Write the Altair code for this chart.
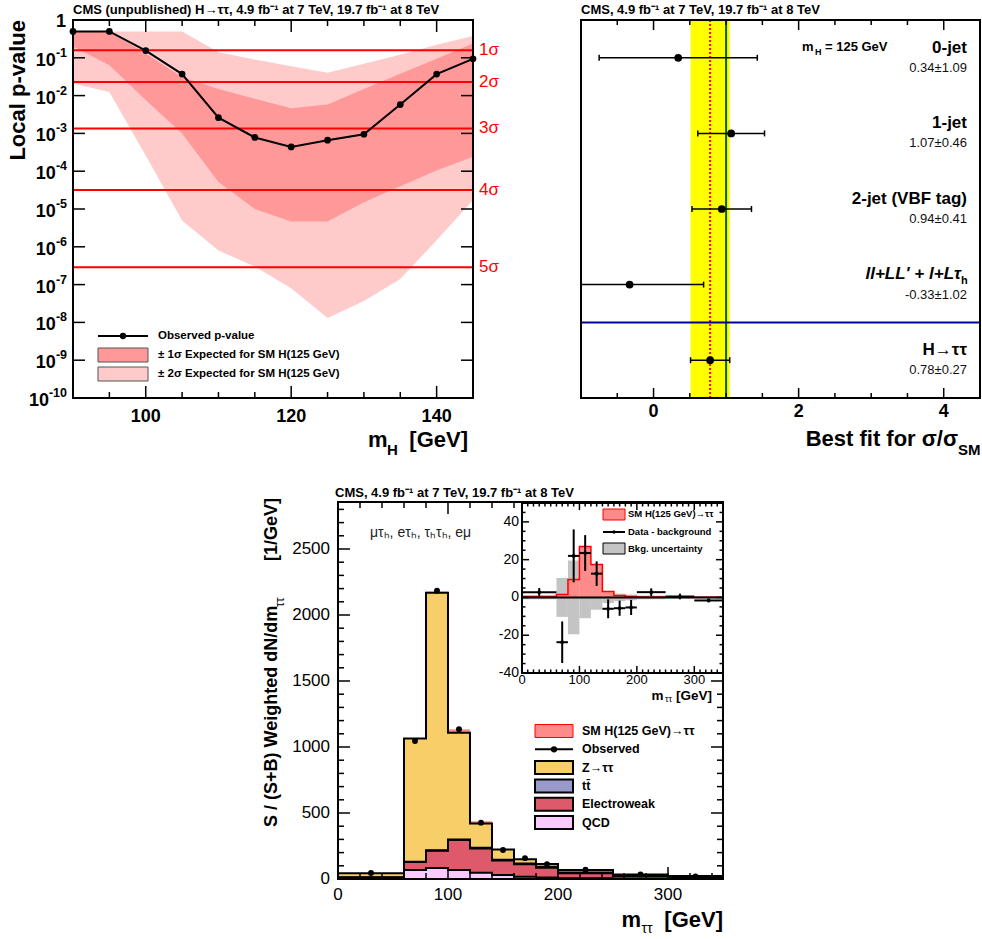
import altair as alt
import numpy as np
import pandas as pd

FONT = "Liberation Sans, Arial, Helvetica, sans-serif"

# ---------------- Panel A: local p-value scan ----------------
MASS = [90, 95, 100, 105, 110, 115, 120, 125, 130, 135, 140, 145]
P_OBS = [0.5, 0.5, 0.155, 0.037, 0.0026, 7.8e-4, 4.4e-4, 6.6e-4, 9.5e-4, 5.8e-3, 0.037, 0.094]
EXP_1S_HI = [0.5, 0.5, 0.13, 0.031, 0.015, 0.0083, 0.0046, 0.0058, 0.015, 0.038, 0.094, 0.24]
EXP_1S_LO = [0.2, 0.064, 0.0076, 1.0e-3, 5.2e-5, 1.0e-5, 4.7e-6, 4.7e-6, 1.5e-5, 4.0e-5, 1.05e-4, 2.4e-4]
EXP_2S_HI = [0.5, 0.5, 0.5, 0.5, 0.14, 0.09, 0.06, 0.04, 0.07, 0.12, 0.22, 0.38]
EXP_2S_LO = [0.021, 0.0125, 2.6e-4, 5e-6, 8e-7, 3e-7, 8e-8, 1.3e-8, 3.7e-8, 1.4e-7, 1.5e-6, 1.7e-5]
SIGMA_P = [0.1587, 0.02275, 0.00135, 3.17e-5, 2.87e-7]
SIGMA_LABELS = ["1σ", "2σ", "3σ", "4σ", "5σ"]

# ---------------- Panel B: best-fit signal strength ----------------
CATEGORIES = ["0-jet", "1-jet", "2-jet (VBF tag)", "ll+LL' + l+Lτh", "H→ττ"]
MU = [0.34, 1.07, 0.94, -0.33, 0.78]
MU_ERR = [1.09, 0.46, 0.41, 1.02, 0.27]
SM_VALUE = 1.0

# ---------------- Panel C: weighted m_tautau ----------------
EDGES = [0, 60, 80, 100, 120, 140, 160, 180, 200, 250, 300, 350]
QCD = [4, 68, 84, 68, 48, 30, 17, 11, 5, 3, 2]
EWK = [8, 60, 130, 227, 184, 110, 95, 75, 38, 20, 10]
TTBAR = [2, 3, 4, 5, 5, 6, 6, 6, 6, 4, 3]
ZTT = [30, 934, 1950, 807, 183, 78, 32, 21, 19, 8, 7]
SIGNAL = [0.5, 1.5, 9.5, 27, 17.5, 3.2, 1.0, 0.5, 0.3, 0.2, 0.1]
OBSERVED = [46, 1045, 2184, 1134, 427, 220, 158, 113, 70, 35, 20]

# inset
DATA_MINUS_BKG = [2.8, -23.7, 22, 23.5, 12.6, -6, -5.7, -5.3, 2.8, 0.5, -1.6]
DATA_MINUS_BKG_ERR = [2.2, 11, 14, 9.5, 6.5, 5, 4, 4, 2, 1.5, 1]
BKG_UNC = [1, 10.3, 19.5, 11, 6.5, 3, 2, 1.5, 1, 0.5, 0.5]

# ---------------- layout (pixels) ----------------
A_BOX = (73, 20, 473, 398)    # left, top, right, bottom
B_BOX = (581, 20, 980, 398)
C_BOX = (338, 502, 723, 879)
D_BOX = (522, 503, 723, 673)

LIGHT = "#ffcaca"
DARK = "#ff9999"
C_ZTT, C_TT, C_EWK, C_QCD, C_SIG = "#f8ce68", "#9999cc", "#de5a6a", "#facaff", "#ff8a8a"

ONE = pd.DataFrame({"k": [0]})


def text(t, x, y, size=12, weight="normal", align="left", baseline="alphabetic",
         color="black", angle=0, style="normal"):
    return alt.Chart(ONE).mark_text(
        text=t, font=FONT, fontSize=size, fontWeight=weight, fontStyle=style,
        align=align, baseline=baseline, color=color, angle=angle
    ).encode(x=alt.value(x), y=alt.value(y))


def box(b, width=2, fill=None, stroke="black"):
    kw = dict(stroke=stroke, strokeWidth=width)
    if fill is None:
        kw.update(fill="white", fillOpacity=0)
    else:
        kw.update(fill=fill, fillOpacity=1)
    return alt.Chart(ONE).mark_rect(**kw).encode(
        x=alt.value(b[0]), x2=alt.value(b[2]), y=alt.value(b[1]), y2=alt.value(b[3]))


def xticks(values, scale, y_edge, length, width=1.5):
    df = pd.DataFrame({"v": list(values)})
    return alt.Chart(df).mark_rule(color="black", strokeWidth=width).encode(
        x=alt.X("v:Q", scale=scale, axis=None), y=alt.value(y_edge), y2=alt.value(y_edge + length))


def yticks(values, scale, x_edge, length, width=1.5):
    df = pd.DataFrame({"v": list(values)})
    return alt.Chart(df).mark_rule(color="black", strokeWidth=width).encode(
        y=alt.Y("v:Q", scale=scale, axis=None), x=alt.value(x_edge), x2=alt.value(x_edge + length))


def all_ticks(sx, sy, b, xmaj, xmin, ymaj, ymin, lmaj, lmin):
    out = []
    for vals, L in ((xmaj, lmaj), (xmin, lmin)):
        if len(vals):
            out.append(xticks(vals, sx, b[3], -L))
            out.append(xticks(vals, sx, b[1], L))
    if sy is not None:
        for vals, L in ((ymaj, lmaj), (ymin, lmin)):
            if len(vals):
                out.append(yticks(vals, sy, b[0], L))
                out.append(yticks(vals, sy, b[2], -L))
    return out


def labels(values, labs, sx=None, sy=None, x=None, y=None, size=17, weight="normal",
           align="center", baseline="middle", dy=0):
    df = pd.DataFrame({"v": list(values), "lab": list(labs)})
    enc = {"text": alt.Text("lab:N")}
    if sx is not None:
        enc["x"] = alt.X("v:Q", scale=sx, axis=None)
        enc["y"] = alt.value(y)
    else:
        enc["y"] = alt.Y("v:Q", scale=sy, axis=None)
        enc["x"] = alt.value(x)
    return alt.Chart(df).mark_text(font=FONT, fontSize=size, fontWeight=weight, align=align,
                                   baseline=baseline, dy=dy, color="black").encode(**enc)


# =============== Panel A ===============
xsA = alt.Scale(domain=[90, 145], range=[A_BOX[0], A_BOX[2]], nice=False, zero=False)
ysA = alt.Scale(type="log", domain=[1e-10, 1], range=[A_BOX[3], A_BOX[1]], nice=False)
dfA = pd.DataFrame({"m": MASS, "obs": P_OBS, "lo1": EXP_1S_LO, "hi1": EXP_1S_HI,
                    "lo2": EXP_2S_LO, "hi2": EXP_2S_HI})
dfS = pd.DataFrame({"p": SIGMA_P, "lab": SIGMA_LABELS})
XA = alt.X("m:Q", scale=xsA, axis=None)


def YA(f):
    return alt.Y(f, scale=ysA, axis=None)


decades = [10.0 ** (-k) for k in range(0, 11)]
LAB_R = 67          # right edge of y tick labels
EXP_SIZE = 12.5
# exponents -1 .. -9 (two characters) and -10 (three characters)
e1 = [10.0 ** (-k) for k in range(1, 10)]
e2 = [1e-10]
w1 = (0.333 + 0.556) * EXP_SIZE
w2 = (0.333 + 2 * 0.556) * EXP_SIZE

a_layers = [
    alt.Chart(dfA).mark_area(color=LIGHT).encode(x=XA, y=YA("lo2:Q"), y2="hi2:Q"),
    alt.Chart(dfA).mark_area(color=DARK).encode(x=XA, y=YA("lo1:Q"), y2="hi1:Q"),
    alt.Chart(dfS).mark_rule(color="#ff0000", strokeWidth=2).encode(
        y=YA("p:Q"), x=alt.value(A_BOX[0]), x2=alt.value(A_BOX[2])),
    alt.Chart(dfA).mark_line(color="black", strokeWidth=2).encode(x=XA, y=YA("obs:Q")),
    alt.Chart(dfA).mark_point(filled=True, color="black", size=45, opacity=1).encode(x=XA, y=YA("obs:Q")),
    box(A_BOX),
    *all_ticks(xsA, ysA, A_BOX, [100, 120, 140], [95, 105, 110, 115, 125, 130, 135],
               decades, [], 12, 6),
    alt.Chart(dfS).mark_text(font=FONT, fontSize=17, color="#ff0000", align="left",
                             baseline="middle").encode(x=alt.value(479), y=YA("p:Q"), text="lab:N"),
    labels([100, 120, 140], ["100", "120", "140"], sx=xsA, y=417, size=18, weight="bold"),
    labels([1.0], ["1"], sy=ysA, x=LAB_R - 1, size=18, weight="bold", align="right", dy=2),
    labels(e1, ["10"] * len(e1), sy=ysA, x=LAB_R - w1, size=18, weight="bold", align="right", dy=3),
    labels(e2, ["10"], sy=ysA, x=LAB_R - w2, size=18, weight="bold", align="right", dy=3),
    labels(e1 + e2, [f"-{k}" for k in range(1, 11)], sy=ysA, x=LAB_R, size=EXP_SIZE,
           weight="bold", align="right", dy=-5),
]
panelA = alt.layer(*a_layers)

a_annot = [
    text("CMS (unpublished) H→ττ, 4.9 fb⁻¹ at 7 TeV, 19.7 fb⁻¹ at 8 TeV", 73, 14, 13, "bold"),
    text("Local p-value", 25, 20, 22, "bold", align="right", angle=270),
    text("m", 368, 447, 22, "bold"),
    text("H", 387, 455, 15, "bold"),
    text("[GeV]", 468, 447, 22, "bold", align="right"),
    # legend
    alt.Chart(ONE).mark_rule(color="black", strokeWidth=2).encode(
        x=alt.value(98), x2=alt.value(148), y=alt.value(336)),
    alt.Chart(ONE).mark_point(filled=True, color="black", size=40, opacity=1).encode(
        x=alt.value(123), y=alt.value(336)),
    alt.Chart(ONE).mark_rect(fill=DARK, stroke="#555555", strokeWidth=1).encode(
        x=alt.value(98), x2=alt.value(148), y=alt.value(348), y2=alt.value(362)),
    alt.Chart(ONE).mark_rect(fill=LIGHT, stroke="#555555", strokeWidth=1).encode(
        x=alt.value(98), x2=alt.value(148), y=alt.value(367), y2=alt.value(381)),
    text("Observed p-value", 158, 336, 11.5, "bold", baseline="middle"),
    text("± 1σ Expected for SM H(125 GeV)", 158, 355, 11.5, "bold", baseline="middle"),
    text("± 2σ Expected for SM H(125 GeV)", 158, 374, 11.5, "bold", baseline="middle"),
]

# =============== Panel B ===============
xsB = alt.Scale(domain=[-1, 4.5], range=[B_BOX[0], B_BOX[2]], nice=False, zero=False, clamp=True)
ysB = alt.Scale(type="band", domain=CATEGORIES, range=[B_BOX[1], B_BOX[3]],
                paddingInner=0, paddingOuter=0)
dfB = pd.DataFrame({"cat": CATEGORIES, "mu": MU, "err": MU_ERR})
dfB["lo"] = dfB["mu"] - dfB["err"]
dfB["hi"] = dfB["mu"] + dfB["err"]
dfB["val"] = [f"{m:.2f}±{e:.2f}" for m, e in zip(MU, MU_ERR)]
comb = dfB[dfB["cat"] == "H→ττ"]
caps = pd.DataFrame({"cat": list(dfB["cat"]) * 2, "x": list(dfB["lo"]) + list(dfB["hi"])})
caps = caps[caps["x"] >= -1]
plain = dfB[dfB["cat"] != "ll+LL' + l+Lτh"]
llrow = dfB[dfB["cat"] == "ll+LL' + l+Lτh"]


def YB(bp=0.5):
    return alt.Y("cat:N", scale=ysB, axis=None, bandPosition=bp)


b_layers = [
    alt.Chart(comb).mark_rect(color="#ffff00").encode(
        x=alt.X("lo:Q", scale=xsB, axis=None), x2="hi:Q", y=alt.value(B_BOX[1]), y2=alt.value(B_BOX[3])),
    alt.Chart(comb).mark_rule(color="#ff0000", strokeWidth=2, strokeDash=[2, 2]).encode(
        x=alt.X("mu:Q", scale=xsB, axis=None), y=alt.value(B_BOX[1]), y2=alt.value(B_BOX[3])),
    alt.Chart(pd.DataFrame({"sm": [SM_VALUE]})).mark_rule(color="#006600", strokeWidth=2).encode(
        x=alt.X("sm:Q", scale=xsB, axis=None), y=alt.value(B_BOX[1]), y2=alt.value(B_BOX[3])),
    alt.Chart(comb).mark_rule(color="#000099", strokeWidth=2).encode(
        y=YB(0), x=alt.value(B_BOX[0]), x2=alt.value(B_BOX[2])),
    alt.Chart(dfB).mark_rule(color="black", strokeWidth=1.5).encode(
        x=alt.X("lo:Q", scale=xsB, axis=None), x2="hi:Q", y=YB()),
    alt.Chart(caps).mark_tick(orient="vertical", size=6, thickness=1.5, color="black", opacity=1).encode(
        x=alt.X("x:Q", scale=xsB, axis=None), y=YB()),
    alt.Chart(dfB).mark_point(filled=True, color="black", size=60, opacity=1).encode(
        x=alt.X("mu:Q", scale=xsB, axis=None), y=YB()),
    alt.Chart(plain).mark_text(font=FONT, fontSize=17, fontWeight="bold", align="right",
                               baseline="middle", dy=-10).encode(x=alt.value(967), y=YB(), text="cat:N"),
    alt.Chart(llrow).mark_text(text="ll+LL' + l+Lτ", font=FONT, fontSize=17, fontWeight="bold",
                               fontStyle="italic", align="right", baseline="middle", dy=-11).encode(
        x=alt.value(961), y=YB()),
    alt.Chart(llrow).mark_text(text="h", font=FONT, fontSize=11, fontWeight="bold", align="left",
                               baseline="middle", dy=-4).encode(x=alt.value(961), y=YB()),
    alt.Chart(dfB).mark_text(font=FONT, fontSize=13, align="right", baseline="middle", dy=10,
                             color="#111111").encode(x=alt.value(967), y=YB(), text="val:N"),
    box(B_BOX),
    *all_ticks(xsB, None, B_BOX, [0, 2, 4], [-0.5, 0.5, 1, 1.5, 2.5, 3, 3.5], [], [], 10, 5),
    labels([0, 2, 4], ["0", "2", "4"], sx=xsB, y=412, size=18, weight="bold"),
]
panelB = alt.layer(*b_layers)

b_annot = [
    text("CMS, 4.9 fb⁻¹ at 7 TeV, 19.7 fb⁻¹ at 8 TeV", 581, 14, 13, "bold"),
    text("m", 802, 47, 13, "bold", baseline="middle"),
    text("H", 815, 52, 9, "bold", baseline="middle"),
    text("= 125 GeV", 825, 47, 13, "bold", baseline="middle"),
    text("Best fit for σ/σ", 958, 446, 22, "bold", align="right"),
    text("SM", 958, 455, 15, "bold"),
]

# =============== Panel C ===============
xsC = alt.Scale(domain=[0, 350], range=[C_BOX[0], C_BOX[2]], nice=False, zero=False)
ysC = alt.Scale(domain=[0, 2856], range=[C_BOX[3], C_BOX[1]], nice=False, zero=False)
LO = EDGES[:-1]
HI = EDGES[1:]
CENTERS = [(a + b) / 2 for a, b in zip(LO, HI)]

rects, steps = [], []
cum = np.zeros(len(LO))
for name, vals, color in (("QCD", QCD, C_QCD), ("EWK", EWK, C_EWK), ("tt", TTBAR, C_TT),
                          ("Ztt", ZTT, C_ZTT), ("sig", SIGNAL, C_SIG)):
    y0 = cum.copy()
    y1 = cum + np.array(vals, dtype=float)
    df = pd.DataFrame({"lo": LO, "hi": HI, "y0": y0, "y1": y1})
    rects.append(alt.Chart(df).mark_rect(color=color).encode(
        x=alt.X("lo:Q", scale=xsC, axis=None), x2="hi:Q",
        y=alt.Y("y0:Q", scale=ysC, axis=None), y2="y1:Q"))
    if name != "sig":
        sdf = pd.DataFrame({"x": list(LO) + [EDGES[-1]], "y": list(y1) + [y1[-1]]})
        steps.append(alt.Chart(sdf).mark_line(
            interpolate="step-after", color="black", strokeWidth=2).encode(
            x=alt.X("x:Q", scale=xsC, axis=None), y=alt.Y("y:Q", scale=ysC, axis=None)))
    cum = y1

dfObs = pd.DataFrame({"c": CENTERS, "obs": OBSERVED})
c_layers = rects + steps + [
    alt.Chart(dfObs).mark_point(filled=True, color="black", size=35, opacity=1).encode(
        x=alt.X("c:Q", scale=xsC, axis=None), y=alt.Y("obs:Q", scale=ysC, axis=None)),
    box(C_BOX),
    *all_ticks(xsC, ysC, C_BOX, [100, 200, 300],
               [v for v in range(20, 350, 20) if v % 100],
               [500, 1000, 1500, 2000, 2500],
               [v for v in range(100, 2850, 100) if v % 500], 12, 6),
    labels([0, 100, 200, 300], ["0", "100", "200", "300"], sx=xsC, y=895, size=17),
    labels([0, 500, 1000, 1500, 2000, 2500], ["0", "500", "1000", "1500", "2000", "2500"],
           sy=ysC, x=330, size=17, align="right"),
]
panelC = alt.layer(*c_layers)

LX0, LX1, LT = 535, 573, 582
LY = [731 + 18.3 * i for i in range(6)]


def swatch(y, fill, stroke="black", sw=2):
    return alt.Chart(ONE).mark_rect(fill=fill, stroke=stroke, strokeWidth=sw).encode(
        x=alt.value(LX0), x2=alt.value(LX1), y=alt.value(y - 6.5), y2=alt.value(y + 6.5))


c_annot = [
    text("CMS, 4.9 fb⁻¹ at 7 TeV, 19.7 fb⁻¹ at 8 TeV", 335, 497, 13, "bold"),
    text("μτₕ, eτₕ, τₕτₕ, eμ", 370, 533, 14, "normal", baseline="middle", color="#222222"),
    text("S / (S+B) Weighted dN/dm", 277, 827, 18, "bold", align="left", angle=270),
    text("ττ", 284, 607, 12, "normal", align="left", angle=270),
    text("[1/GeV]", 277, 498, 18, "bold", align="right", angle=270),
    text("m", 621.5, 927, 22, "bold"),
    text("ττ", 641.5, 933, 14, "normal"),
    text("[GeV]", 723, 927, 22, "bold", align="right"),
    swatch(LY[0], C_SIG, "#ff0000", 1),
    alt.Chart(ONE).mark_rule(color="black", strokeWidth=2).encode(
        x=alt.value(LX0), x2=alt.value(LX1), y=alt.value(LY[1])),
    alt.Chart(ONE).mark_point(filled=True, color="black", size=40, opacity=1).encode(
        x=alt.value((LX0 + LX1) / 2), y=alt.value(LY[1])),
    swatch(LY[2], C_ZTT), swatch(LY[3], C_TT), swatch(LY[4], C_EWK), swatch(LY[5], C_QCD),
    text("SM H(125 GeV)→ττ", LT, LY[0], 12.5, "bold", baseline="middle"),
    text("Observed", LT, LY[1], 12.5, "bold", baseline="middle"),
    text("Z→ττ", LT, LY[2], 12.5, "bold", baseline="middle"),
    text("tt̄", LT, LY[3], 12.5, "bold", baseline="middle"),
    text("Electroweak", LT, LY[4], 12.5, "bold", baseline="middle"),
    text("QCD", LT, LY[5], 12.5, "bold", baseline="middle"),
]

# =============== Inset D ===============
xsD = alt.Scale(domain=[0, 350], range=[D_BOX[0], D_BOX[2]], nice=False, zero=False)
ysD = alt.Scale(domain=[-40, 50], range=[D_BOX[3], D_BOX[1]], nice=False, zero=False)
dfD = pd.DataFrame({"lo": LO, "hi": HI, "c": CENTERS, "sig": SIGNAL, "unc": BKG_UNC,
                    "d": DATA_MINUS_BKG, "e": DATA_MINUS_BKG_ERR})
dfD["unc_lo"] = -dfD["unc"]
dfD["d_lo"] = dfD["d"] - dfD["e"]
dfD["d_hi"] = dfD["d"] + dfD["e"]
dfD["zero"] = 0.0
XD = alt.X("lo:Q", scale=xsD, axis=None)


def YD(f):
    return alt.Y(f, scale=ysD, axis=None)


sig_step = pd.DataFrame({"x": list(LO) + [EDGES[-1]], "y": list(SIGNAL) + [SIGNAL[-1]]})
d_layers = [
    box(D_BOX, width=0, fill="white", stroke="white"),
    alt.Chart(dfD).mark_rect(color="#c4c4c4").encode(x=XD, x2="hi:Q", y=YD("unc_lo:Q"), y2="unc:Q"),
    alt.Chart(dfD).mark_rect(color=C_SIG).encode(x=XD, x2="hi:Q", y=YD("zero:Q"), y2="sig:Q"),
    alt.Chart(sig_step).mark_line(interpolate="step-after", color="#ff0000", strokeWidth=1.5).encode(
        x=alt.X("x:Q", scale=xsD, axis=None), y=YD("y:Q")),
    alt.Chart(pd.DataFrame({"z": [0.0]})).mark_rule(color="black", strokeWidth=2).encode(
        y=YD("z:Q"), x=alt.value(D_BOX[0]), x2=alt.value(D_BOX[2])),
    alt.Chart(dfD).mark_rule(color="black", strokeWidth=2).encode(x=XD, x2="hi:Q", y=YD("d:Q")),
    alt.Chart(dfD).mark_rule(color="black", strokeWidth=2).encode(
        x=alt.X("c:Q", scale=xsD, axis=None), y=YD("d_lo:Q"), y2="d_hi:Q"),
    alt.Chart(dfD).mark_point(filled=True, color="black", size=14, opacity=1).encode(
        x=alt.X("c:Q", scale=xsD, axis=None), y=YD("d:Q")),
    box(D_BOX),
    *all_ticks(xsD, ysD, D_BOX, [100, 200, 300], [v for v in range(10, 350, 10) if v % 100],
               [-20, 0, 20, 40], [v for v in range(-35, 50, 5) if v % 20], 7, 3.5),
    labels([0, 100, 200, 300], ["0", "100", "200", "300"], sx=xsD, y=680, size=13),
    labels([-40, -20, 0, 20, 40], ["-40", "-20", "0", "20", "40"], sy=ysD, x=519, size=14,
           align="right"),
]
panelD = alt.layer(*d_layers)

IX0, IX1, IT = 603, 625, 628
d_annot = [
    alt.Chart(ONE).mark_rect(fill=C_SIG, stroke="#ff0000", strokeWidth=1).encode(
        x=alt.value(IX0), x2=alt.value(IX1), y=alt.value(509), y2=alt.value(520)),
    alt.Chart(ONE).mark_rule(color="black", strokeWidth=2).encode(
        x=alt.value(IX0), x2=alt.value(IX1), y=alt.value(532)),
    alt.Chart(ONE).mark_point(filled=True, color="black", size=12, opacity=1).encode(
        x=alt.value((IX0 + IX1) / 2), y=alt.value(532)),
    alt.Chart(ONE).mark_rect(fill="#c4c4c4", stroke="black", strokeWidth=1).encode(
        x=alt.value(IX0), x2=alt.value(IX1), y=alt.value(543), y2=alt.value(554)),
    text("SM H(125 GeV)→ττ", IT, 514, 9.5, "bold", baseline="middle"),
    text("Data - background", IT, 532, 9.5, "bold", baseline="middle"),
    text("Bkg. uncertainty", IT, 548.5, 9.5, "bold", baseline="middle"),
    text("m", 651.5, 700, 13.5, "bold"),
    text("ττ", 665, 701.5, 9, "normal"),
    text("[GeV]", 712, 700, 13.5, "bold", align="right"),
]

chart = alt.layer(
    panelA, panelB, panelC, panelD,
    *a_annot, *b_annot, *c_annot, *d_annot
).resolve_scale(x="independent", y="independent").properties(
    width=982, height=939, padding=0, autosize=alt.AutoSizeParams(type="none")
).configure_view(stroke=None)

chart.save("out.html", embed_options={"renderer": "svg", "actions": False})
